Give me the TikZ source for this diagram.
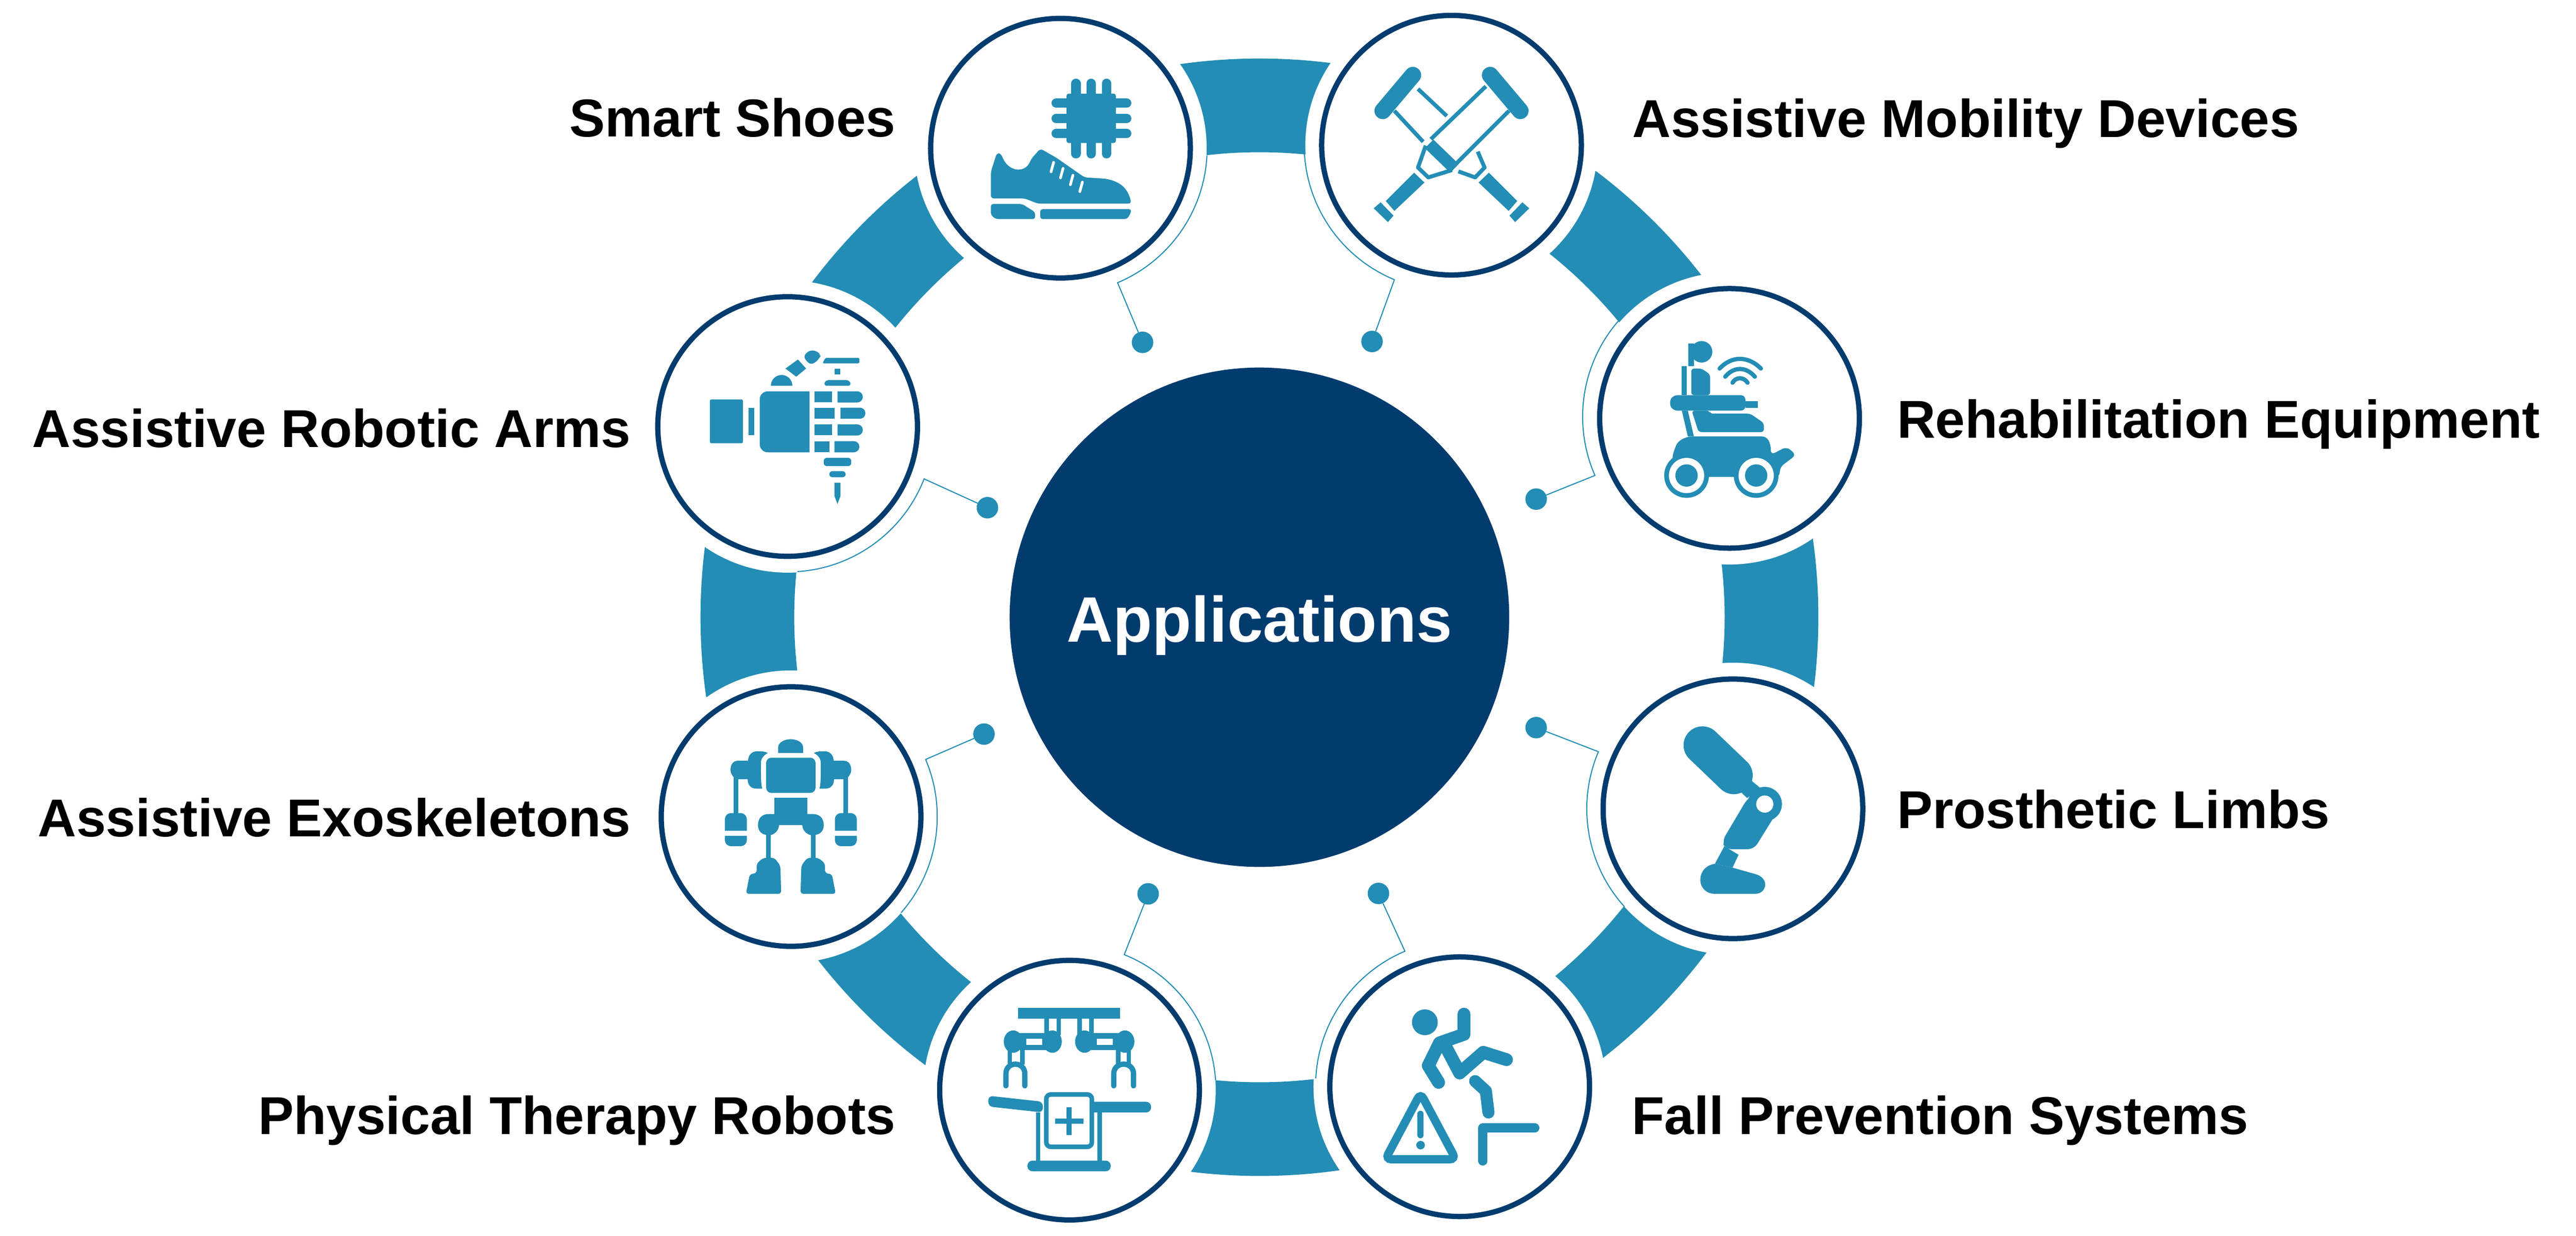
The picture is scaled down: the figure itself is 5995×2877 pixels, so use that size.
\documentclass[tikz,border=0pt]{standalone}
\usepackage{fontspec}
\setmainfont{Liberation Sans}
\tikzset{
    ringpart/.style={fill=ringblue,even odd rule},
    halo/.style={circle,fill=white,inner sep=0pt,outer sep=0pt,minimum size=6.8cm},
    devicecircle/.style={circle,draw=deepnavy,fill=white,line width=3.5pt,inner sep=0pt,outer sep=0pt,minimum size=6.04cm},
    linkdot/.style={circle,fill=ringblue,inner sep=0pt,outer sep=0pt,minimum size=0.5cm},
    linkline/.style={draw=ringblue,line width=0.7pt},
    labeltext/.style={font=\fontsize{35.3}{42}\bfseries\selectfont,text=black,inner sep=0pt},
    iconfill/.style={fill=ringblue,draw=none},
    iconline/.style={draw=ringblue,fill=none,line width=#1},
    iconhole/.style={fill=white,draw=none},
}
\begin{document}
\begin{tikzpicture}[x=0.01cm,y=0.01cm]

    % Colors for the circles
    \definecolor{ringblue}{RGB}{35,141,181}
    \definecolor{deepnavy}{RGB}{2,60,110}

    \useasboundingbox (0,0) rectangle (5995,-2877);

    % Ring behind the circles
    \fill[ringpart] (2931,-1437) circle (13cm) (2931,-1437) circle (10.82cm);

    % White gaps round the circles
    \node[halo] (haloshoes) at (2468,-345) {};
    \node[halo] (halomobility) at (3378,-338) {};
    \node[halo] (halorehab) at (4025,-974) {};
    \node[halo] (halolimbs) at (4033,-1883) {};
    \node[halo] (halofall) at (3397,-2530) {};
    \node[halo] (halotherapy) at (2489,-2538) {};
    \node[halo] (haloexo) at (1841,-1901) {};
    \node[halo] (haloarms) at (1833,-993) {};

    % Dots
    \node[linkdot] (dotshoes) at (2659,-797) {};
    \node[linkdot] (dotmobility) at (3193,-795) {};
    \node[linkdot] (dotrehab) at (3575,-1162) {};
    \node[linkdot] (dotlimbs) at (3575,-1694) {};
    \node[linkdot] (dotfall) at (3208,-2080) {};
    \node[linkdot] (dottherapy) at (2672,-2081) {};
    \node[linkdot] (dotexo) at (2290,-1709) {};
    \node[linkdot] (dotarms) at (2298,-1182) {};

    % Connectors
    \draw[linkline] (dotshoes) -- (haloshoes.-67.2) arc[start angle=-67.2,end angle=-2.9,radius=3.4cm];
    \draw[linkline] (dotmobility) -- (halomobility.247.5) arc[start angle=247.5,end angle=183.6,radius=3.4cm];
    \draw[linkline] (dotrehab) -- (halorehab.203.7) arc[start angle=203.7,end angle=138.3,radius=3.4cm];
    \draw[linkline] (dotlimbs) -- (halolimbs.157) arc[start angle=157,end angle=222.1,radius=3.4cm];
    \draw[linkline] (dotfall) -- (halofall.112.9) arc[start angle=112.9,end angle=177.1,radius=3.4cm];
    \draw[linkline] (dottherapy) -- (halotherapy.68.1) arc[start angle=68.1,end angle=3.9,radius=3.4cm];
    \draw[linkline] (dotexo) -- (haloexo.23) arc[start angle=23,end angle=-41.2,radius=3.4cm];
    \draw[linkline] (dotarms) -- (haloarms.-21.3) arc[start angle=-21.3,end angle=-86.3,radius=3.4cm];

    % Center Circle
    \node[circle,fill=deepnavy,inner sep=0pt,minimum size=11.62cm,text=white,text height=33pt,text depth=0pt,font=\fontsize{42.5}{50}\bfseries\selectfont] (applications) at (2931,-1437) {Applications};

    % Circles
    \node[devicecircle] (shoes) at (2468,-345) {};
    \node[devicecircle] (mobility) at (3378,-338) {};
    \node[devicecircle] (rehab) at (4025,-974) {};
    \node[devicecircle] (limbs) at (4033,-1883) {};
    \node[devicecircle] (fall) at (3397,-2530) {};
    \node[devicecircle] (therapy) at (2489,-2538) {};
    \node[devicecircle] (exo) at (1841,-1901) {};
    \node[devicecircle] (arms) at (1833,-993) {};

    % Labels
    \node[labeltext,anchor=base east] (labelshoes) at (2085,-318) {Smart Shoes};
    \node[labeltext,anchor=base west] (labelmobility) at (3798,-319) {Assistive Mobility Devices};
    \node[labeltext,anchor=base west] (labelrehab) at (4414,-1020) {Rehabilitation Equipment};
    \node[labeltext,anchor=base west] (labellimbs) at (4414,-1929) {Prosthetic Limbs};
    \node[labeltext,anchor=base west] (labelfall) at (3797,-2641) {Fall Prevention Systems};
    \node[labeltext,anchor=base east] (labeltherapy) at (2085,-2641) {Physical Therapy Robots};
    \node[labeltext,anchor=base east] (labelexo) at (1469,-1948) {Assistive Exoskeletons};
    \node[labeltext,anchor=base east] (labelarms) at (1469,-1041) {Assistive Robotic Arms};

    % Smart Shoes icon
    \fill[iconfill,rounded corners=1.5pt] (2482,-218) rectangle (2597,-333);
    \foreach \x in {2504,2539,2575} {
        \draw[iconline=6.2pt,line cap=round] (\x,-194) -- (\x,-358);
    }
    \foreach \y in {-240,-276,-311} {
        \draw[iconline=6.2pt,line cap=round] (2458,\y) -- (2622,\y);
    }
    \fill[iconfill,rounded corners=2pt] (2306,-462) -- (2306,-400) -- (2320,-356) -- (2330,-358) .. controls (2345,-400) and (2385,-405) .. (2400,-370) -- (2421,-346) -- (2458,-367) -- (2524,-413) -- (2573,-416) .. controls (2610,-425) and (2625,-440) .. (2633,-474) -- (2415,-474) -- (2385,-462) -- cycle;
    \foreach \x/\y in {2452/-378,2474/-392,2497/-408,2519/-424} {
        \draw[white,line width=1.8pt,line cap=round] (\x,\y) -- ++(-6,-22);
    }
    \fill[iconfill,rounded corners=1.5pt] (2306,-475) -- (2379,-475) -- (2409,-494) -- (2409,-510) -- (2330,-510) .. controls (2312,-510) and (2306,-500) .. (2306,-490) -- cycle;
    \fill[iconfill,rounded corners=1.5pt] (2421,-487) -- (2633,-487) .. controls (2630,-500) and (2625,-510) .. (2612,-510) -- (2421,-510) -- cycle;

    % Assistive Mobility Devices icon
    \draw[iconline=11pt,line cap=round] (3288,-175) -- (3218,-258);
    \draw[iconline=11pt,line cap=round] (3468,-175) -- (3538,-258);
    \draw[iconline=2.6pt] (3300,-207) -- (3367,-270) (3245,-258) -- (3312,-330);
    \draw[iconline=2.6pt] (3458,-201) -- (3330,-324) (3512,-258) -- (3391,-379);
    \draw[iconline=8pt] (3326,-335) -- (3385,-392);
    \draw[iconline=2.6pt,line join=round] (3318,-339) -- (3300,-390) -- (3324,-413) -- (3379,-396);
    \draw[iconline=2.6pt,line join=round] (3439,-353) -- (3455,-390) -- (3433,-413) -- (3394,-399);
    \fill[iconfill] (3291,-402) -- (3315,-425) -- (3245,-491) -- (3225,-468) -- cycle;
    \fill[iconfill] (3465,-402) -- (3441,-425) -- (3511,-491) -- (3531,-468) -- cycle;
    \fill[iconfill] (3197,-485) -- (3213,-471) -- (3243,-502) -- (3230,-517) -- cycle;
    \fill[iconfill] (3559,-485) -- (3543,-471) -- (3513,-502) -- (3526,-517) -- cycle;

    % Rehabilitation Equipment icon
    \fill[iconfill] (3960,-819) circle (0.25cm);
    \fill[iconfill] (3929,-800) rectangle (3942,-853);
    \fill[iconfill] (3914,-853) rectangle (3926,-920);
    \fill[iconfill,rounded corners=2pt] (3936,-858) -- (3960,-858) -- (3980,-872) -- (3980,-920) -- (3936,-920) -- cycle;
    \fill[iconfill,rounded corners=3pt] (3884,-938) -- (3893,-920) -- (4062,-920) -- (4062,-956) -- (3893,-956) -- cycle;
    \fill[iconfill] (4062,-934) rectangle (4091,-949);
    \fill[iconfill,rounded corners=2pt] (3937,-956) -- (3979,-956) -- (3979,-963) -- (4073,-963) -- (4105,-985) -- (4105,-1006) -- (3953,-1006) -- cycle;
    \fill[iconfill] (3914,-956) -- (3928,-956) -- (3942,-1016) -- (3928,-1016) -- cycle;
    \fill[iconfill,rounded corners=3pt] (3892,-1060) -- (3904,-1028) -- (3928,-1016) -- (4111,-1016) -- (4121,-1035) -- (4121,-1059) -- (4158,-1040) -- (4180,-1059) -- (4142,-1088) -- (4142,-1110) -- (3892,-1110) -- cycle;
    \fill[white] (3979,-1111) rectangle (4035,-1160);
    \foreach \x in {3925,4087} {
        \fill[iconfill] (\x,-1107) circle (0.52cm);
        \fill[iconhole] (\x,-1107) circle (0.41cm);
        \fill[iconfill] (\x,-1107) circle (0.26cm);
    }
    \draw[iconline=2.8pt,line cap=round] (4002,-858) .. controls (4030,-828) and (4068,-828) .. (4098,-858);
    \draw[iconline=2.8pt,line cap=round] (4015,-877) .. controls (4035,-853) and (4063,-853) .. (4084,-877);
    \draw[iconline=2.8pt,line cap=round] (4032,-891) .. controls (4040,-877) and (4058,-877) .. (4067,-891);

    % Prosthetic Limbs icon
    \draw[iconline=25pt,line cap=round] (3962,-1735) -- (4035,-1805);
    \fill[iconfill] (4073,-1815) -- (4096,-1834) -- (4066,-1858) -- (4046,-1839) -- cycle;
    \fill[iconfill,rounded corners=4pt] (4107,-1832) -- (4147,-1872) -- (4082,-1977) -- (4015,-1977) -- (4008,-1958) -- (4066,-1860) -- cycle;
    \fill[iconfill] (4107,-1872) circle (0.4cm);
    \fill[iconhole] (4107,-1872) circle (0.2cm);
    \fill[iconfill] (4013,-1970) -- (4046,-1990) -- (4032,-2020) -- (3991,-2011) -- cycle;
    \fill[iconfill] (3991,-2011) .. controls (3965,-2015) and (3957,-2035) .. (3957,-2048) .. controls (3957,-2070) and (3975,-2081) .. (3990,-2081) -- (4084,-2081) .. controls (4100,-2081) and (4108,-2070) .. (4108,-2059) .. controls (4108,-2048) and (4098,-2038) .. (4085,-2035) -- (4032,-2020) -- cycle;

    % Fall Prevention Systems icon
    \fill[iconfill] (3316,-2380) circle (0.3cm);
    \draw[iconline=8.5pt,line cap=round,line join=round] (3407,-2361) -- (3407,-2408) -- (3350,-2428) -- (3324,-2481) -- (3348,-2520);
    \draw[iconline=8.5pt,line cap=round,line join=round] (3362,-2432) -- (3397,-2498) -- (3452,-2450) -- (3506,-2467);
    \draw[iconline=8pt,line cap=round,line join=round] (3433,-2517) -- (3458,-2540) -- (3464,-2590);
    \draw[iconline=5.5pt,rounded corners=4pt] (3306,-2545) -- (3388,-2699) -- (3224,-2699) -- cycle;
    \draw[iconline=4pt,line cap=round] (3306,-2593) -- (3306,-2643);
    \fill[iconfill] (3306,-2666) circle (0.1cm);
    \draw[iconline=6pt,line cap=round,line join=round] (3451,-2703) -- (3451,-2626) -- (3572,-2626);

    % Physical Therapy Robots icon
    \fill[iconfill] (2369,-2346) rectangle (2607,-2372);
    \foreach \x in {2436,2464,2512,2540} {
        \draw[iconline=3pt] (\x,-2372) -- (\x,-2410);
    }
    \foreach \x in {2358,2449,2524,2618} {
        \fill[iconfill] (\x,-2425) ellipse (0.22cm and 0.26cm);
    }
    \fill[iconfill] (2358,-2405) rectangle (2449,-2445);
    \fill[iconfill] (2524,-2405) rectangle (2618,-2445);
    \fill[iconhole] (2388,-2418) rectangle (2425,-2433);
    \fill[iconhole] (2553,-2418) rectangle (2590,-2433);
    \foreach \x in {2350,2379,2602,2627} {
        \draw[iconline=3pt] (\x,-2445) -- (\x,-2478);
    }
    \draw[iconline=3.5pt,line cap=round] (2341,-2528) -- (2341,-2500) .. controls (2341,-2470) and (2385,-2470) .. (2385,-2500) -- (2385,-2528);
    \draw[iconline=3.5pt,line cap=round] (2592,-2528) -- (2592,-2500) .. controls (2592,-2470) and (2638,-2470) .. (2638,-2500) -- (2638,-2528);
    \fill[iconfill,rounded corners=3pt] (2300,-2551) -- (2427,-2565) -- (2427,-2590) -- (2300,-2576) -- cycle;
    \fill[iconfill,rounded corners=3.4pt] (2520,-2565) -- (2679,-2565) -- (2679,-2590) -- (2520,-2590) -- cycle;
    \draw[iconline=3pt] (2416,-2590) -- (2416,-2702) (2559,-2590) -- (2559,-2702);
    \draw[iconline=3pt,fill=white,rounded corners=3pt] (2435,-2548) rectangle (2541,-2670);
    \draw[iconline=3.5pt] (2455,-2610) -- (2521,-2610) (2488,-2578) -- (2488,-2643);
    \fill[iconfill,rounded corners=3.4pt] (2391,-2702) rectangle (2585,-2727);

    % Assistive Exoskeletons icon
    \fill[iconfill] (1811,-1753) -- (1811,-1740) arc[start angle=180,end angle=0,x radius=0.29cm,y radius=0.19cm] -- (1869,-1753) -- cycle;
    \fill[iconfill,rounded corners=3.5pt] (1783,-1764) rectangle (1898,-1846);
    \fill[iconfill] (1802,-1857) rectangle (1879,-1895);
    \fill[iconfill] (1879,-1895) -- (1890,-1895) .. controls (1908,-1895) and (1917,-1905) .. (1917,-1921) .. controls (1917,-1935) and (1908,-1944) .. (1893,-1944) -- (1885,-1944) .. controls (1875,-1940) and (1868,-1933) .. (1867,-1921) -- (1813,-1921) .. controls (1812,-1933) and (1805,-1940) .. (1795,-1944) -- (1788,-1944) .. controls (1773,-1944) and (1764,-1935) .. (1764,-1921) .. controls (1764,-1905) and (1773,-1895) .. (1790,-1895) -- cycle;
    \foreach \sx/\ox in {1/0,-1/3681} {
        \begin{scope}[shift={(\ox,0)},xscale=\sx]
            \fill[iconfill] (1787,-1753) .. controls (1780,-1749) and (1770,-1749) .. (1762,-1749) .. controls (1750,-1749) and (1741,-1758) .. (1741,-1771) -- (1718,-1771) .. controls (1706,-1771) and (1700,-1780) .. (1700,-1793) .. controls (1700,-1800) and (1704,-1805) .. (1707,-1809) -- (1718,-1814) -- (1740,-1814) .. controls (1740,-1828) and (1748,-1836) .. (1760,-1836) -- (1774,-1836) .. controls (1770,-1825) and (1771,-1790) .. (1771,-1775) .. controls (1771,-1765) and (1778,-1758) .. (1787,-1753) -- cycle;
            \fill[iconfill] (1707,-1809) rectangle (1718,-1894);
            \fill[iconfill] (1687,-1934) -- (1687,-1907) arc[start angle=180,end angle=90,radius=0.14cm] -- (1724,-1893) arc[start angle=90,end angle=0,radius=0.14cm] -- (1738,-1934) -- cycle;
            \fill[iconfill] (1687,-1946) -- (1738,-1946) -- (1738,-1956) arc[start angle=0,end angle=-90,radius=0.14cm] -- (1701,-1970) arc[start angle=-90,end angle=-180,radius=0.14cm] -- cycle;
            \fill[iconfill] (1783,-1944) rectangle (1794,-1997);
            \fill[iconfill,rounded corners=2pt] (1745,-2035) -- (1761,-2033) -- (1761,-2010) -- (1777,-1997) -- (1802,-1997) -- (1816,-2015) -- (1818,-2081) -- (1736,-2081) -- cycle;
        \end{scope}
    }

    % Assistive Robotic Arms icon
    \fill[iconfill,rounded corners=1pt] (1652,-930) rectangle (1729,-1032);
    \fill[iconfill] (1742,-949) rectangle (1755,-1013);
    \fill[iconfill] (1884,-911) -- (1787,-911) arc[start angle=90,end angle=180,radius=0.19cm] -- (1768,-1034) arc[start angle=180,end angle=270,radius=0.19cm] -- (1884,-1053) -- cycle;
    \fill[iconfill] (1896,-911) rectangle (1936,-936);
    \fill[iconfill] (1896,-949) rectangle (1942,-975);
    \fill[iconfill] (1896,-988) rectangle (1936,-1013);
    \fill[iconfill] (1896,-1027) rectangle (1930,-1053);
    \foreach \xa/\xb/\y in {1949/1995/-911,1956/2001/-949,1949/1995/-988,1942/1987/-1027} {
        \fill[iconfill] (\xa,\y) -- (\xb,\y) arc[start angle=90,end angle=-90,radius=0.13cm] -- (\xa,\y-26) -- cycle;
    }
    \fill[iconfill] (1794,-898) arc[start angle=180,end angle=0,radius=0.25cm] -- cycle;
    \fill[iconfill] (1828,-858) -- (1857,-837) -- (1876,-858) -- (1853,-877) -- cycle;
    \fill[iconfill,rounded corners=3pt] (1868,-830) -- (1887,-813) -- (1911,-823) -- (1908,-835) -- (1887,-851) -- cycle;
    \fill[iconfill,rounded corners=1pt] (1921,-833) -- (2000,-833) -- (2000,-846) -- (1914,-846) -- cycle;
    \fill[iconfill] (1942,-859) rectangle (1956,-872);
    \fill[iconfill,rounded corners=2pt] (1917,-898) -- (1921,-885) -- (1977,-885) -- (1981,-898) -- cycle;
    \fill[iconfill,rounded corners=2pt] (1917,-1066) -- (1981,-1066) -- (1981,-1085) -- (1917,-1085) -- cycle;
    \fill[iconfill,rounded corners=2pt] (1930,-1097) -- (1968,-1097) -- (1968,-1111) -- (1930,-1111) -- cycle;
    \fill[iconfill] (1942,-1124) -- (1956,-1124) -- (1956,-1155) -- (1949,-1173) -- (1942,-1155) -- cycle;

\end{tikzpicture}
\end{document}
